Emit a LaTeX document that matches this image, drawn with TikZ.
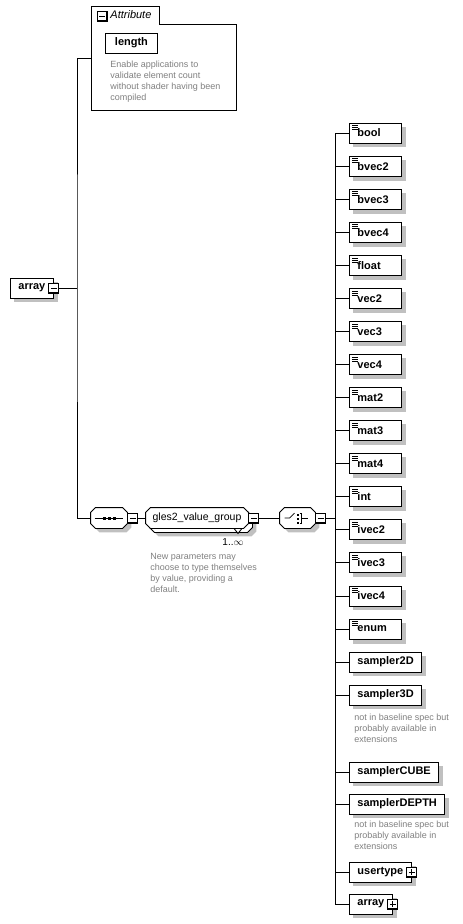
\documentclass[tikz,border=0pt]{standalone}
\usepackage{fontspec}
\setmainfont{Liberation Sans}
\usetikzlibrary{backgrounds}

\definecolor{schattengrau}{RGB}{192,192,192}
\definecolor{notizgrau}{RGB}{128,128,128}

\tikzset{
  elem/.style={draw, fill=white, font=\bfseries\fontsize{11}{13}\selectfont,
    minimum height=20pt, inner xsep=8pt, inner ysep=0pt, anchor=west},
  typ/.style={elem, text width=36pt, align=left},
  knopf/.style={draw, fill=white, minimum size=10pt, inner sep=0pt},
  minus/.style={knopf, path picture={
      \draw ([xshift=2pt]path picture bounding box.west) -- ([xshift=-2pt]path picture bounding box.east);
      \draw[line width=2pt] (path picture bounding box.south west) -- (path picture bounding box.south east)
          -- (path picture bounding box.north east);}},
  plus/.style={knopf, path picture={
      \draw ([xshift=2pt]path picture bounding box.west) -- ([xshift=-2pt]path picture bounding box.east);
      \draw ([yshift=2pt]path picture bounding box.south) -- ([yshift=-2pt]path picture bounding box.north);
      \draw[line width=2pt] (path picture bounding box.south west) -- (path picture bounding box.south east)
          -- (path picture bounding box.north east);}},
  modell/.style={rectangle, minimum height=20pt, inner sep=0pt},
  notiz/.style={text=notizgrau, font=\fontsize{9}{11}\selectfont, align=left, anchor=north west, inner sep=0pt},
}

% Achteck um einen Knoten: #1 Stil, #2 Knoten, #3/#4 Verschiebung
\newcommand\achteck[4]{%
  \path[#1] ([xshift=#3+5pt,yshift=#4]#2.north west) -- ([xshift=#3-5pt,yshift=#4]#2.north east)
    -- ([xshift=#3,yshift=#4-5pt]#2.north east) -- ([xshift=#3,yshift=#4+5pt]#2.south east)
    -- ([xshift=#3-5pt,yshift=#4]#2.south east) -- ([xshift=#3+5pt,yshift=#4]#2.south west)
    -- ([xshift=#3,yshift=#4+5pt]#2.south west) -- ([xshift=#3,yshift=#4-5pt]#2.north west) -- cycle;}

\begin{document}
\begin{tikzpicture}[x=1pt, y=-1pt, line width=0.9pt]
        \useasboundingbox (0,0) rectangle (463,924);

        % Attribut-Kasten
        \draw[fill=white] (91,110) -- (91,6) -- (159,6) -- (159,24) -- (236,24) -- (236,110) -- cycle;
        \node[minus] (attr_m) at (102,16) {};
        \node[anchor=west, inner sep=0pt, font=\itshape\fontsize{11}{13}\selectfont] (attr_titel) at (110,15) {Attribute};
        \node[elem, minimum width=52pt] (length) at (105,43) {length};
        \node[notiz] (length_text) at (110,61) {Enable applications to\\validate element count\\without shader having been\\compiled};
        \coordinate (attribut) at (91,58);

        % Wurzel-Element
        \node[elem] (wurzel) at (10,288) {array\hspace{8pt}};
        \node[minus] (wurzel_m) at (wurzel.east) {};
        \coordinate (gabel) at (77,288);

        % Sequenz
        \node[modell, minimum width=36pt] (seq) at (109,518) {};
        \achteck{fill=schattengrau}{seq}{4pt}{-4pt}
        \achteck{draw, fill=white}{seq}{0pt}{0pt}
        \draw ([xshift=4pt]seq.west) -- ([xshift=-4pt]seq.east);
        \foreach \dx in {-5,0,5}
            \fill ([xshift=\dx pt]seq.center) +(-1.5,-1.5) rectangle +(1.5,1.5);
        \node[minus, anchor=west] (seq_m) at (seq.east) {};

        % Gruppe (mehrfach)
        \node[modell, minimum width=102pt] (gruppe_hinten) at (201,522) {};
        \achteck{fill=schattengrau}{gruppe_hinten}{4pt}{-4pt}
        \achteck{draw, fill=white}{gruppe_hinten}{0pt}{0pt}
        \draw[fill=white] ([xshift=33pt,yshift=4pt]gruppe_hinten.south) -- ++(8,0) -- ++(-4,5) -- cycle;
        \node[modell, minimum width=102pt] (gruppe) at (197,518) {};
        \achteck{draw, fill=white}{gruppe}{0pt}{0pt}
        \node[font=\fontsize{10.5}{12}\selectfont, inner sep=0pt] (gruppe_name) at (gruppe.center) {gles2\_value\_group};
        \node[minus, anchor=west] (gruppe_m) at (gruppe.east) {};
        \node[font=\fontsize{10}{12}\selectfont, inner sep=0pt] (mult) at (233,542) {1..$\infty$};
        \node[notiz] (gruppe_text) at (150,553) {New parameters may\\choose to type themselves\\by value, providing a\\default.};

        % Auswahl
        \node[modell, minimum width=35pt] (wahl) at (297.5,518) {};
        \achteck{fill=schattengrau}{wahl}{4pt}{-4pt}
        \achteck{draw, fill=white}{wahl}{0pt}{0pt}
        \begin{scope}[shift={(wahl.center)}, line width=0.7pt]
            \draw (-13,0) -- (-8,0) -- (-3,-5);
            \foreach \dy in {-4,0,4}
                \fill (-0.5,\dy) rectangle +(2,2);
            \draw (2,-5) -- (4,-5) -- (4,5) -- (2,5);
            \draw (4,0) -- (10,0);
        \end{scope}
        \node[minus, anchor=west] (wahl_m) at (wahl.east) {};
        \coordinate (stamm) at (335,518);

        % Verbindungen links
        \draw (wurzel_m.east) -- (gabel);
        \draw (attribut) -| (gabel) |- (seq.west);
        \draw (seq_m.east) -- (gruppe.west);
        \draw (gruppe_m.east) -- (wahl.west);
        \draw (wahl_m.east) -- (stamm);

        % einfache Typen
        \foreach \n [count=\i from 0] in {bool,bvec2,bvec3,bvec4,float,vec2,vec3,vec4,mat2,mat3,mat4,int,ivec2,ivec3,ivec4,enum}
        {
            \node[typ] (\n) at (349,133+33.07*\i) {\n};
            \draw[line width=0.6pt] ([xshift=3pt,yshift=-3pt]\n.north west) -- ++(6,0)
                ([xshift=3pt,yshift=-5pt]\n.north west) -- ++(6,0)
                ([xshift=3pt,yshift=-7pt]\n.north west) -- ++(6,0);
            \draw (stamm |- \n.west) -- (\n.west);
        }

        % Sampler und Rest
        \node[elem] (sampler2D) at (349,662) {sampler2D};
        \node[elem] (sampler3D) at (349,695) {sampler3D};
        \node[notiz] (sampler3D_text) at (354,714) {not in baseline spec but\\probably available in\\extensions};
        \node[elem] (samplerCUBE) at (349,772) {samplerCUBE};
        \node[elem] (samplerDEPTH) at (349,804) {samplerDEPTH};
        \node[notiz] (samplerDEPTH_text) at (354,821) {not in baseline spec but\\probably available in\\extensions};
        \node[elem] (usertype) at (349,872) {usertype\hspace{4pt}};
        \node[plus] (usertype_p) at (usertype.east) {};
        \node[elem] (feld) at (349,904) {array\hspace{8pt}};
        \node[plus] (feld_p) at (feld.east) {};
        \foreach \n in {sampler2D,sampler3D,samplerCUBE,samplerDEPTH,usertype,feld}
            \draw (stamm |- \n.west) -- (\n.west);
        \draw (stamm |- bool.west) -- (stamm |- feld.west);

        % Schatten
        \begin{scope}[on background layer]
            \foreach \n in {length,wurzel,bool,bvec2,bvec3,bvec4,float,vec2,vec3,vec4,mat2,mat3,mat4,int,ivec2,ivec3,ivec4,enum,
                sampler2D,sampler3D,samplerCUBE,samplerDEPTH,usertype,feld}
                \fill[schattengrau] ([xshift=4pt,yshift=-4pt]\n.north west) rectangle ([xshift=4pt,yshift=-4pt]\n.south east);
        \end{scope}

\end{tikzpicture}
\end{document}
